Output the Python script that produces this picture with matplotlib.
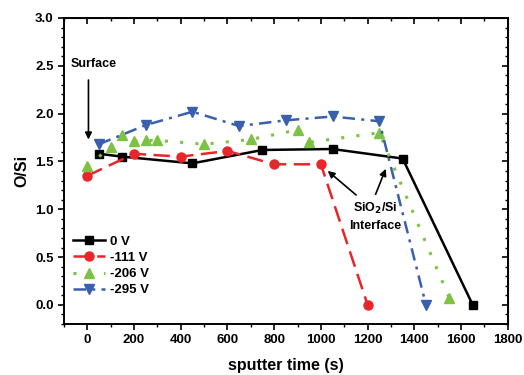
import matplotlib
matplotlib.use("Agg")
import matplotlib.pyplot as plt
from matplotlib.ticker import MultipleLocator

plt.rcParams['font.family'] = ['Liberation Sans', 'DejaVu Sans']
plt.rcParams['font.weight'] = 'bold'

# data
x0 = [50, 150, 450, 750, 1050, 1350, 1650]
y0 = [1.58, 1.55, 1.48, 1.62, 1.63, 1.53, 0.0]
x111 = [0, 200, 400, 600, 800, 1000, 1200]
y111 = [1.35, 1.58, 1.55, 1.61, 1.47, 1.47, 0.0]
x206 = [0, 100, 150, 200, 250, 300, 500, 700, 900, 950, 1250, 1550]
y206 = [1.45, 1.65, 1.78, 1.71, 1.72, 1.72, 1.68, 1.73, 1.83, 1.70, 1.80, 0.07]
x295 = [50, 250, 450, 650, 850, 1050, 1250, 1450]
y295 = [1.68, 1.88, 2.02, 1.87, 1.93, 1.97, 1.92, 0.0]
labels = ['0 V', '-111 V', '-206 V', '-295 V']

fig = plt.figure(figsize=(5.24, 3.75), dpi=100)
ax = fig.add_axes([0.122, 0.136, 0.847, 0.816])

ax.plot(x0, y0, color='black', ls='-', lw=1.8, marker='s', ms=6, label=labels[0])
ax.plot(x111, y111, color='#e8262a', ls=(0, (6.5, 3)), lw=1.8, marker='o', ms=6.5, label=labels[1])
ax.plot(x206, y206, color='#7dc242', ls=(0, (1, 4)), lw=2.2, marker='^', ms=7, label=labels[2])
ax.plot(x295, y295, color='#3a5fad', ls=(0, (5, 2.5, 1.2, 2.5)), lw=1.8, marker='v', ms=7, label=labels[3])

ax.set_xlim(-100, 1800)
ax.set_ylim(-0.2, 3.0)
ax.xaxis.set_major_locator(MultipleLocator(200))
ax.xaxis.set_minor_locator(MultipleLocator(100))
ax.yaxis.set_major_locator(MultipleLocator(0.5))
ax.yaxis.set_minor_locator(MultipleLocator(0.1))
ax.yaxis.set_major_formatter(matplotlib.ticker.FormatStrFormatter('%.1f'))
ax.tick_params(which='major', direction='out', length=4, width=1.2, labelsize=9.5)
ax.tick_params(which='minor', direction='out', length=2, width=1)
for s in ax.spines.values():
    s.set_linewidth(1.4)

secx = ax.secondary_xaxis('top')
secx.xaxis.set_major_locator(MultipleLocator(200))
secx.xaxis.set_minor_locator(MultipleLocator(100))
secx.tick_params(which='major', direction='in', length=4, width=1.2, labeltop=False)
secx.tick_params(which='minor', direction='in', length=2, width=1)
secy = ax.secondary_yaxis('right')
secy.yaxis.set_major_locator(MultipleLocator(0.5))
secy.yaxis.set_minor_locator(MultipleLocator(0.1))
secy.tick_params(which='major', direction='in', length=4, width=1.2, labelright=False)
secy.tick_params(which='minor', direction='in', length=2, width=1)

ax.set_xlabel('sputter time (s)', fontsize=11.5, fontweight='bold', labelpad=8)
ax.set_ylabel('O/Si', fontsize=11.5, fontweight='bold', labelpad=4)

ax.text(-70, 2.52, 'Surface', fontsize=9, fontweight='bold', va='center', ha='left')
ax.annotate('', xy=(5, 1.70), xytext=(5, 2.38),
            arrowprops=dict(arrowstyle='-|>', color='black', lw=1.2, mutation_scale=10))
ax.text(1232, 0.92, 'SiO$_\\mathbf{2}$/Si\nInterface', fontsize=9, fontweight='bold',
        ha='center', va='center', linespacing=1.45)
ax.annotate('', xy=(1020, 1.42), xytext=(1160, 1.13),
            arrowprops=dict(arrowstyle='-|>', color='black', lw=1.2, mutation_scale=10))
ax.annotate('', xy=(1282, 1.45), xytext=(1230, 1.13),
            arrowprops=dict(arrowstyle='-|>', color='black', lw=1.2, mutation_scale=10))

leg = ax.legend(loc='lower left', bbox_to_anchor=(0.0, 0.06), frameon=False,
                prop={'weight': 'bold', 'size': 9.5}, handlelength=2.4,
                labelspacing=0.3, handletextpad=0.4, borderaxespad=0.3)

fig.savefig('out.png', dpi=100)
